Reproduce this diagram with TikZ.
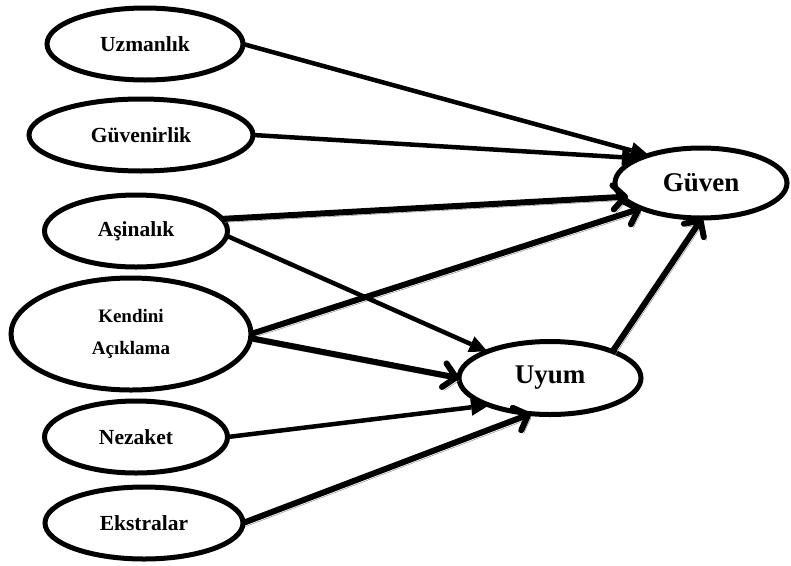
\documentclass[tikz,border=0pt]{standalone}
\usepackage{fontspec}
\setmainfont{Liberation Serif}
\usetikzlibrary{shapes.geometric,arrows.meta}

\tikzset{
  latent/.style={ellipse, draw, line width=5pt, inner sep=0pt, outer sep=0pt, align=center},
  smalltext/.style={font=\fontsize{21.5}{25}\selectfont\bfseries},
  midtext/.style={font=\fontsize{19}{32}\selectfont\bfseries},
  bigtext/.style={font=\fontsize{27}{31}\selectfont\bfseries},
  thinarrow/.style={line width=4.5pt, -{Triangle[length=18pt,width=17pt,line width=0pt]}},
  shadowed/.style={preaction={draw=black!50, transform canvas={shift={(2.5pt,-3.5pt)}}}},
  thickarrow/.style={line width=6pt, -{Straight Barb[length=12pt,width=24pt,round]}, shadowed},
}

\begin{document}
\begin{tikzpicture}[x=1pt,y=-1pt]
  \useasboundingbox (0,0) rectangle (791,565);

  % predictor constructs
  \node[latent, smalltext, minimum width=196pt, minimum height=72pt] (uzm) at (145,44) {Uzmanlık};
  \node[latent, smalltext, minimum width=224pt, minimum height=72pt] (guvr) at (141,135) {Güvenirlik};
  \node[latent, smalltext, minimum width=183pt, minimum height=72pt] (asin) at (136,231) {Aşinalık};
  \node[latent, midtext, minimum width=240pt, minimum height=112pt] (kend) at (131,334) {Kendini\\Açıklama};
  \node[latent, smalltext, minimum width=183pt, minimum height=72pt] (nez) at (136,437) {Nezaket};
  \node[latent, smalltext, minimum width=198pt, minimum height=72pt] (ekst) at (144,523) {Ekstralar};

  % outcome constructs
  \node[latent, bigtext, minimum width=172pt, minimum height=70pt] (guven) at (701,183) {Güven};
  \node[latent, bigtext, minimum width=182pt, minimum height=73pt] (uyum) at (550,378) {Uyum};

  % paths
  \draw[thinarrow] (uzm.east) -- (guven.152);
  \draw[thinarrow] (guvr.east) -- (guven.158);
  \draw[thickarrow, shorten >=-6pt] (asin.8) -- (guven.190);
  \draw[thickarrow] (kend.east) -- (guven.203);
  \draw[thinarrow] (asin.-3) -- (uyum.157);
  \draw[thickarrow] (kend.-2) -- (uyum.west);
  \draw[thinarrow] (nez.east) -- (uyum.204);
  \draw[thickarrow] (ekst.east) -- (uyum.242);
  \draw[thickarrow] (uyum.23) -- (guven.272);
\end{tikzpicture}
\end{document}
